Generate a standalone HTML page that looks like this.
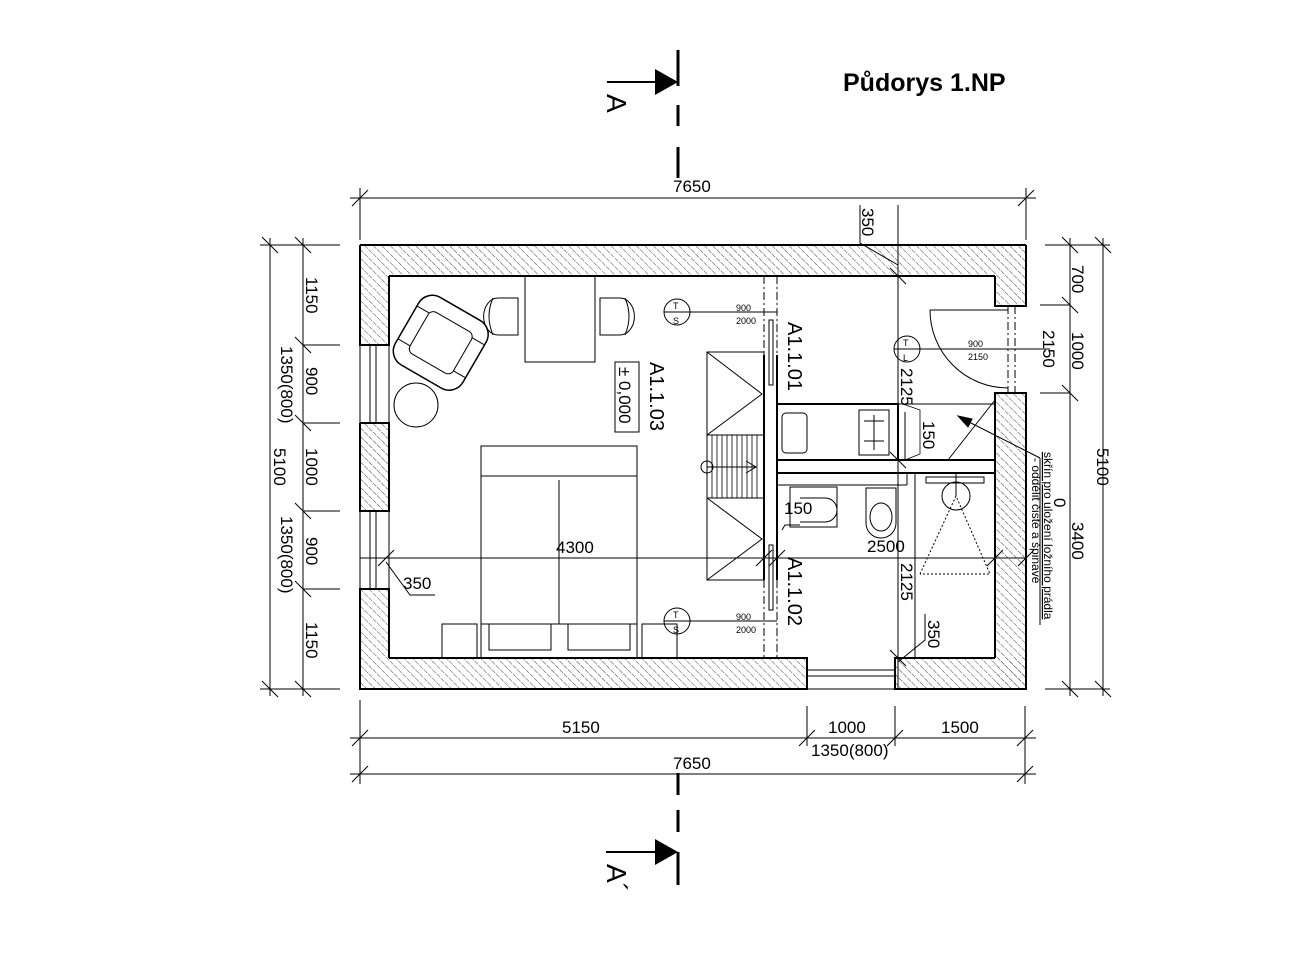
<!DOCTYPE html>
<html><head><meta charset="utf-8"><style>
html,body{margin:0;padding:0;background:#fff;}
svg{display:block;}
text{font-family:"Liberation Sans",sans-serif;fill:#000;}
</style></head><body>
<svg width="1290" height="967" viewBox="0 0 1290 967" xmlns="http://www.w3.org/2000/svg">
<defs>
<pattern id="h" width="6" height="6" patternUnits="userSpaceOnUse" patternTransform="rotate(-45)">
<line x1="0" y1="0" x2="0" y2="6" stroke="#444" stroke-width="1" stroke-dasharray="4,1"/>
</pattern>
</defs>
<rect width="1290" height="967" fill="#fff"/>

<text x="843" y="91" font-size="25" font-weight="bold">Půdorys 1.NP</text>

<line x1="678" y1="50" x2="678" y2="86" stroke="#000" stroke-width="3"/>
<line x1="678" y1="105" x2="678" y2="126" stroke="#000" stroke-width="3"/>
<line x1="678" y1="147" x2="678" y2="178" stroke="#000" stroke-width="3"/>
<line x1="607" y1="82" x2="656" y2="82" stroke="#000" stroke-width="2"/>
<polygon points="655,69 678,82 655,95" fill="#000"/>
<text transform="translate(607,94) rotate(90)" font-size="28">A</text>

<line x1="678" y1="773" x2="678" y2="795" stroke="#000" stroke-width="3"/>
<line x1="678" y1="810" x2="678" y2="832" stroke="#000" stroke-width="3"/>
<line x1="678" y1="852" x2="678" y2="885" stroke="#000" stroke-width="3"/>
<line x1="606" y1="852" x2="656" y2="852" stroke="#000" stroke-width="2"/>
<polygon points="655,839 678,852 655,865" fill="#000"/>
<text transform="translate(607,864) rotate(90)" font-size="28">A´</text>

<g fill="url(#h)">
<rect x="360" y="245" width="666" height="31"/>
<rect x="995" y="276" width="31" height="30"/>
<rect x="995" y="393" width="31" height="296"/>
<rect x="360" y="658" width="447" height="31"/>
<rect x="895" y="658" width="131" height="31"/>
<rect x="360" y="276" width="29" height="69"/>
<rect x="360" y="423" width="29" height="88"/>
<rect x="360" y="589" width="29" height="69"/>
</g>
<g stroke="#000" stroke-width="2" fill="none">
<line x1="360" y1="245" x2="1026" y2="245"/>
<polyline points="995,276 995,306 1026,306 1026,245"/>
<polyline points="995,658 995,393 1026,393 1026,689 895,689 895,658 995,658"/>
<line x1="389" y1="276" x2="995" y2="276"/>
<polyline points="389,658 807,658 807,689 360,689 360,589 389,589 389,658"/>
<polyline points="389,276 389,345 360,345 360,245"/>
<polyline points="360,423 389,423 389,511 360,511 360,423"/>
</g>
<g stroke="#000" stroke-width="1">
<line x1="370" y1="345" x2="370" y2="423"/><line x1="376" y1="345" x2="376" y2="423"/>
<line x1="370" y1="511" x2="370" y2="589"/><line x1="376" y1="511" x2="376" y2="589"/>
<line x1="360" y1="345" x2="360" y2="423"/><line x1="389" y1="345" x2="389" y2="423"/>
<line x1="360" y1="511" x2="360" y2="589"/><line x1="389" y1="511" x2="389" y2="589"/>
<line x1="807" y1="670" x2="895" y2="670"/><line x1="807" y1="676" x2="895" y2="676"/>
<line x1="807" y1="689" x2="895" y2="689"/>
<line x1="1008" y1="306" x2="1008" y2="393" stroke-dasharray="8,3,2,3"/>
<line x1="1015" y1="306" x2="1015" y2="393" stroke-dasharray="8,3,2,3"/>
<line x1="930" y1="310" x2="1008" y2="310"/>
<path d="M930,310 A78,78 0 0 0 1008,388" fill="none"/>
</g>

<g stroke="#000" stroke-width="2" fill="none">
<line x1="764" y1="355" x2="764" y2="580"/>
<line x1="777" y1="355" x2="777" y2="580"/>
<rect x="777" y="404" width="121" height="56"/>
<line x1="777" y1="473" x2="995" y2="473"/>
<line x1="777" y1="460" x2="995" y2="460"/>
</g>
<g stroke="#000" stroke-width="1" fill="none">
<line x1="764" y1="276" x2="764" y2="355" stroke-dasharray="8,3,2,3"/>
<line x1="777" y1="276" x2="777" y2="355" stroke-dasharray="8,3,2,3"/>
<line x1="764" y1="580" x2="764" y2="658" stroke-dasharray="8,3,2,3"/>
<line x1="777" y1="580" x2="777" y2="658" stroke-dasharray="8,3,2,3"/>
<rect x="769" y="320" width="4" height="65"/>
<rect x="769" y="545" width="4" height="65"/>
<rect x="707" y="352" width="57" height="228"/>
<line x1="707" y1="435" x2="764" y2="435"/><line x1="707" y1="498" x2="764" y2="498"/>
<polyline points="707,352 762,394 707,435"/>
<polyline points="707,498 762,539 707,580"/>
<g stroke-width="0.8">
<line x1="712" y1="435" x2="712" y2="498"/><line x1="717" y1="435" x2="717" y2="498"/><line x1="722" y1="435" x2="722" y2="498"/><line x1="727" y1="435" x2="727" y2="498"/><line x1="732" y1="435" x2="732" y2="498"/><line x1="737" y1="435" x2="737" y2="498"/><line x1="742" y1="435" x2="742" y2="498"/><line x1="747" y1="435" x2="747" y2="498"/><line x1="752" y1="435" x2="752" y2="498"/><line x1="757" y1="435" x2="757" y2="498"/>
</g>
<circle cx="707" cy="467" r="6"/>
<line x1="707" y1="467" x2="756" y2="467"/>
<polyline points="746,461 756,467 746,473"/>
<rect x="525" y="276" width="70" height="86"/>
<path d="M498,298 h20 v37 h-20 a14,18 0 0 1 0,-37z"/>
<path d="M493,298 q-8,18 0,37"/>
<path d="M620,298 h-20 v37 h20 a14,18 0 0 0 0,-37z"/>
<path d="M625,298 q8,18 0,37"/>
<g transform="rotate(30 440 340)">
<rect x="403" y="303" width="78" height="78" rx="16" stroke-width="1.5"/>
<rect x="417" y="318" width="50" height="48" rx="6"/>
<path d="M403,322 h14 M467,322 h14 M403,360 h14 M467,360 h14"/>
</g>
<circle cx="416" cy="405" r="22"/>
<rect x="481" y="446" width="156" height="212"/>
<line x1="481" y1="476" x2="637" y2="476"/>
<line x1="559" y1="480" x2="559" y2="624"/>
<rect x="489" y="624" width="62" height="26"/><rect x="568" y="624" width="62" height="26"/>
<line x1="481" y1="624" x2="637" y2="624"/>
<rect x="442" y="624" width="35" height="34"/><rect x="642" y="624" width="35" height="34"/>
<rect x="615" y="362" width="24" height="70"/>
<circle cx="677" cy="312" r="13"/><line x1="664" y1="312" x2="690" y2="312"/>
<line x1="690" y1="312" x2="777" y2="312"/>
<circle cx="677" cy="621" r="13"/><line x1="664" y1="621" x2="690" y2="621"/>
<line x1="690" y1="621" x2="777" y2="621"/>
<line x1="677" y1="634" x2="677" y2="658"/>
<circle cx="907" cy="349" r="13"/><line x1="894" y1="349" x2="920" y2="349"/>
<line x1="920" y1="349" x2="1050" y2="349"/>
<rect x="782" y="413" width="25" height="40" rx="4"/>
<rect x="859" y="410" width="30" height="45"/>
<line x1="874" y1="415" x2="874" y2="450"/><line x1="864" y1="421" x2="884" y2="421"/><line x1="864" y1="441" x2="884" y2="441"/>
<line x1="777" y1="485" x2="907" y2="485"/><line x1="907" y1="473" x2="907" y2="485"/>
<rect x="790" y="487" width="47" height="40"/>
<path d="M800,498 h25 a12,12 0 0 1 0,24 h-25"/>
<path d="M866,488 h30 v35 a15,15 0 0 1 -30,0z"/>
<ellipse cx="881" cy="517" rx="11" ry="14"/>
<line x1="915" y1="473" x2="915" y2="658"/>
<rect x="926" y="477" width="58" height="6"/>
<circle cx="956" cy="496" r="14"/>
<line x1="956" y1="473" x2="956" y2="496"/>
<polyline points="920,574 956,496 990,574 920,574" stroke-dasharray="2,2"/>
<line x1="898" y1="404" x2="995" y2="404"/>
<polyline points="948,460 995,400"/>
<line x1="905" y1="412" x2="905" y2="460"/>
<path d="M903,404 L920,410 L920,454 L905,460" stroke-width="0.8"/>
<polyline points="1040,458 965,420"/>
<polygon points="958,416 972,419 968,427" fill="#000"/>
<line x1="1040" y1="458" x2="1040" y2="625"/>
</g>

<g stroke="#000" stroke-width="1" fill="none">
<line x1="350" y1="198" x2="1036" y2="198"/>
<line x1="360" y1="188" x2="360" y2="240"/><line x1="1026" y1="188" x2="1026" y2="240"/>
<line x1="352" y1="206" x2="368" y2="190"/><line x1="1018" y1="206" x2="1034" y2="190"/>
<line x1="350" y1="738" x2="1036" y2="738"/>
<line x1="350" y1="774" x2="1036" y2="774"/>
<line x1="360" y1="700" x2="360" y2="784"/><line x1="807" y1="706" x2="807" y2="746"/><line x1="895" y1="706" x2="895" y2="746"/><line x1="1025" y1="706" x2="1025" y2="784"/>
<line x1="352" y1="746" x2="368" y2="730"/><line x1="799" y1="746" x2="815" y2="730"/><line x1="887" y1="746" x2="903" y2="730"/><line x1="1017" y1="746" x2="1033" y2="730"/>
<line x1="352" y1="782" x2="368" y2="766"/><line x1="1017" y1="782" x2="1033" y2="766"/>
<line x1="270" y1="238" x2="270" y2="696"/>
<line x1="303" y1="238" x2="303" y2="696"/>
<line x1="260" y1="245" x2="340" y2="245"/><line x1="260" y1="689" x2="340" y2="689"/>
<line x1="303" y1="345" x2="340" y2="345"/><line x1="303" y1="423" x2="340" y2="423"/><line x1="303" y1="511" x2="340" y2="511"/><line x1="303" y1="589" x2="340" y2="589"/>
<line x1="262" y1="237" x2="278" y2="253"/><line x1="295" y1="237" x2="311" y2="253"/>
<line x1="262" y1="681" x2="278" y2="697"/><line x1="295" y1="681" x2="311" y2="697"/>
<line x1="295" y1="337" x2="311" y2="353"/><line x1="295" y1="415" x2="311" y2="431"/><line x1="295" y1="503" x2="311" y2="519"/><line x1="295" y1="581" x2="311" y2="597"/>
<line x1="1070" y1="238" x2="1070" y2="696"/>
<line x1="1103" y1="238" x2="1103" y2="696"/>
<line x1="1045" y1="245" x2="1110" y2="245"/><line x1="1045" y1="689" x2="1110" y2="689"/>
<line x1="1040" y1="305" x2="1070" y2="305"/><line x1="1040" y1="393" x2="1070" y2="393"/>
<line x1="1062" y1="237" x2="1078" y2="253"/><line x1="1095" y1="237" x2="1111" y2="253"/>
<line x1="1062" y1="297" x2="1078" y2="313"/><line x1="1062" y1="385" x2="1078" y2="401"/>
<line x1="1062" y1="681" x2="1078" y2="697"/><line x1="1095" y1="681" x2="1111" y2="697"/>
<line x1="360" y1="558" x2="1026" y2="558"/>
<line x1="378" y1="566" x2="394" y2="550"/><line x1="756" y1="566" x2="772" y2="550"/><line x1="769" y1="566" x2="785" y2="550"/>
<line x1="987" y1="566" x2="1003" y2="550"/><line x1="1018" y1="566" x2="1034" y2="550"/>
<polyline points="386,562 410,595 435,595"/>
<line x1="898" y1="205" x2="898" y2="689"/>
<line x1="890" y1="268" x2="906" y2="284"/><line x1="890" y1="452" x2="906" y2="468"/><line x1="890" y1="650" x2="906" y2="666"/>
<polyline points="860,205 860,243 898,265"/>
<polyline points="925,614 925,640 898,662"/>
<polyline points="782,530 785,525 800,525"/>
</g>

<g font-size="17">
<text x="673" y="192">7650</text>
<text x="562" y="733">5150</text>
<text x="828" y="733">1000</text>
<text x="941" y="733">1500</text>
<text x="811" y="756">1350(800)</text>
<text x="673" y="769">7650</text>
<text x="556" y="553">4300</text>
<text x="403" y="589">350</text>
<text x="867" y="552">2500</text>
<text x="784" y="514">150</text>
</g>
<g font-size="17">
<text transform="translate(306,277) rotate(90)">1150</text>
<text transform="translate(306,367) rotate(90)">900</text>
<text transform="translate(306,448) rotate(90)">1000</text>
<text transform="translate(306,537) rotate(90)">900</text>
<text transform="translate(306,622) rotate(90)">1150</text>
<text transform="translate(281,346) rotate(90)">1350(800)</text>
<text transform="translate(281,516) rotate(90)">1350(800)</text>
<text transform="translate(274,448) rotate(90)">5100</text>
<text transform="translate(1072,265) rotate(90)">700</text>
<text transform="translate(1072,332) rotate(90)">1000</text>
<text transform="translate(1043,330) rotate(90)">2150</text>
<text transform="translate(1097,448) rotate(90)">5100</text>
<text transform="translate(1072,522) rotate(90)">3400</text>
<text transform="translate(1054,498) rotate(90)">0</text>
<text transform="translate(862,208) rotate(90)">350</text>
<text transform="translate(928,620) rotate(90)">350</text>
<text transform="translate(901,368) rotate(90)">2125</text>
<text transform="translate(901,563) rotate(90)">2125</text>
<text transform="translate(923,421) rotate(90)">150</text>
</g>
<g font-size="20">
<text transform="translate(788,322) rotate(90)">A1.1.01</text>
<text transform="translate(788,557) rotate(90)">A1.1.02</text>
<text transform="translate(650,362) rotate(90)">A1.1.03</text>
<text transform="translate(619,367) rotate(90)" font-size="17">± 0,000</text>
</g>
<g font-size="9">
<text x="736" y="311">900</text><text x="736" y="324">2000</text>
<text x="736" y="620">900</text><text x="736" y="633">2000</text>
<text x="968" y="347">900</text><text x="968" y="360">2150</text>
<text x="673" y="309">T</text><text x="673" y="324">S</text>
<text x="673" y="618">T</text><text x="673" y="633">S</text>
<text x="903" y="346">T</text><text x="903" y="361">L</text>
</g>
<g font-size="12">
<text transform="translate(1044,452) rotate(90)" text-decoration="underline">skřín pro uložení ložního prádla</text>
<text transform="translate(1032,458) rotate(90)">- oddělit čisté a špinavé</text>
</g>
</svg>
</body></html>
